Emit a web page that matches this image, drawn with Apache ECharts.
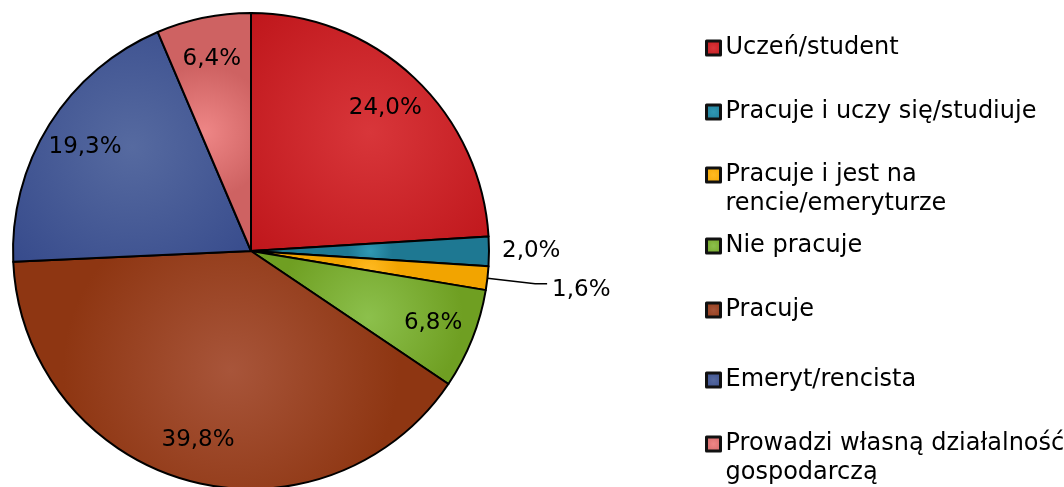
<!DOCTYPE html>
<html>
<head>
<meta charset="utf-8">
<script src="https://cdn.jsdelivr.net/npm/echarts@6/dist/echarts.min.js"></script>
<style>html,body{margin:0;padding:0;background:#fff}#c{width:1064px;height:487px}</style>
</head>
<body>
<div id="c"></div>
<script>
const categories = ['Uczeń/student', 'Pracuje i uczy się/studiuje', 'Pracuje i jest na rencie/emeryturze', 'Nie pracuje', 'Pracuje', 'Emeryt/rencista', 'Prowadzi własną działalność gospodarczą'];
const legendText = ['Uczeń/student', 'Pracuje i uczy się/studiuje', '\nPracuje i jest na\nrencie/emeryturze', 'Nie pracuje', 'Pracuje', 'Emeryt/rencista', '\nProwadzi własną działalność\ngospodarczą'];
const values = [24.0, 2.0, 1.6, 6.8, 39.8, 19.3, 6.4];
const colorsLight = ['#D8363A', '#2F98B4', '#FFBA22', '#8CC04C', '#A8553A', '#566AA0', '#EE8686'];
const colorsDark = ['#BF161B', '#1E7892', '#F2A400', '#6F9F22', '#8E3612', '#374B8C', '#CE6262'];
const legendCenters = [43, 107, 175, 241, 305, 375, 444];

const FONT = 'DejaVu Sans';
const chart = echarts.init(document.getElementById('c'));

const mainData = categories.map((n, i) => ({
  name: n,
  value: values[i],
  itemStyle: {
    color: {
      type: 'radial', x: 0.5, y: 0.5, r: 0.7,
      colorStops: [{offset: 0, color: colorsLight[i]}, {offset: 1, color: colorsDark[i]}]
    }
  }
}));

const labelData = categories.map((n, i) => {
  const d = {name: n, value: values[i]};
  if (i === 1) {
    d.label = {position: 'outside'};
    d.labelLine = {show: false, length: 8, length2: 0};
  } else if (i === 2) {
    d.label = {position: 'outside'};
    d.labelLine = {show: true, length: 48, length2: 12, lineStyle: {color: '#000', width: 1.5}};
  }
  return d;
});

const legends = categories.map((n, i) => {
  const multi = legendText[i].indexOf('\n') >= 0;
  return {
    data: [n],
    orient: 'vertical',
    left: 705,
    top: multi ? legendCenters[i] - 43.5 : legendCenters[i] - 7,
    padding: 0,
    icon: 'rect',
    itemWidth: 14,
    itemHeight: 14,
    selectedMode: false,
    itemStyle: {borderColor: '#111', borderWidth: 3},
    formatter: () => legendText[i],
    textStyle: {fontFamily: FONT, fontSize: 24, color: '#000', lineHeight: multi ? 29 : 14}
  };
});

chart.setOption({
  animation: false,
  legend: legends,
  series: [
    {
      type: 'pie',
      center: [251, 251],
      radius: [0, 238],
      startAngle: 90,
      clockwise: true,
      label: {show: false},
      labelLine: {show: false},
      emphasis: {disabled: true},
      itemStyle: {borderColor: '#000', borderWidth: 2},
      data: mainData
    },
    {
      type: 'pie',
      center: [251, 251],
      radius: [148, 238],
      startAngle: 90,
      clockwise: true,
      silent: true,
      avoidLabelOverlap: false,
      emphasis: {disabled: true},
      itemStyle: {color: 'rgba(0,0,0,0)', borderWidth: 0},
      label: {
        show: true,
        position: 'inside',
        fontFamily: FONT,
        fontSize: 23,
        color: '#000',
        formatter: p => p.value.toFixed(1).replace('.', ',') + '%'
      },
      labelLayout: p => (p.dataIndex === 2 ? {dy: 6} : {}),
      data: labelData
    }
  ]
});
</script>
</body>
</html>
